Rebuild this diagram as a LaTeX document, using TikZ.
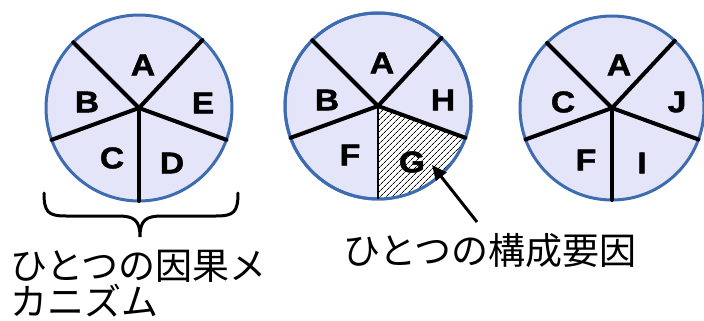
\documentclass[tikz,border=0pt]{standalone}
\usepackage{fontspec}
\newfontfamily\labfont{Liberation Sans}[BoldFeatures={FakeBold=1.5}]
\newfontfamily\jpfont{Noto Sans CJK JP}
\usetikzlibrary{arrows.meta,patterns.meta}
\definecolor{pie}{RGB}{229,229,250}
\definecolor{rim}{RGB}{62,108,176}
\begin{document}
\begin{tikzpicture}[x=1pt,y=1pt,
  disc/.style={fill=pie,draw=rim,line width=3pt},
  spoke/.style={line width=4pt,line cap=round},
  lab/.style={font=\labfont\bfseries\fontsize{30}{32}\selectfont,inner sep=0pt,xscale=1.12},
  jp/.style={font=\jpfont\fontsize{37}{37}\selectfont,inner sep=0pt}]
\useasboundingbox (0,0) rectangle (704,-321);
% circle 1
\coordinate (c1) at (139,-108);
\draw[disc] (c1) circle[radius=93];
\foreach \a in {135,47,-20,-90,200} \draw[spoke] (c1) -- ++(\a:93);
\node[lab] (a1) at (143,-65) {A};
\node[lab] (b1) at (87,-102) {B};
\node[lab] (e1) at (203,-103) {E};
\node[lab] (cc1) at (112,-158) {C};
\node[lab] (d1) at (172,-163) {D};
% circle 2
\coordinate (c2) at (378,-106);
\draw[disc] (c2) circle[radius=93];
\path[fill=white] (c2) -- ++(-20:93) arc[start angle=-20,end angle=-90,radius=93] -- cycle;
\path[pattern={Lines[angle=45,distance=4pt,line width=0.8pt]}] (c2) -- ++(-20:93) arc[start angle=-20,end angle=-90,radius=93] -- cycle;
\draw[rim,line width=1pt] (c2) -- ++(-20:93) arc[start angle=-20,end angle=-90,radius=93] -- cycle;
\draw[draw=rim,line width=3pt] (c2) circle[radius=93];
\foreach \a in {135,47,-20,200} \draw[spoke] (c2) -- ++(\a:93);
\draw[line width=1.5pt] (c2) -- ++(-90:93);
\node[lab] (a2) at (382,-63) {A};
\node[lab] (b2) at (327,-100) {B};
\node[lab] (h2) at (443,-100) {H};
\node[lab] (f2) at (350,-155) {F};
\node[lab] (g2) at (412,-162) {G};
% circle 3
\coordinate (c3) at (612,-108);
\draw[disc] (c3) circle[radius=92];
\foreach \a in {135,47,-20,-90,200} \draw[spoke] (c3) -- ++(\a:92);
\node[lab] (a3) at (619,-65) {A};
\node[lab] (cc3) at (563,-102) {C};
\node[lab] (j3) at (677,-102) {J};
\node[lab] (f3) at (586,-160) {F};
\node[lab] (i3) at (642,-163) {I};
% brace
\draw[line width=3pt,line cap=round]
  (44,-193) .. controls (44,-212) and (48,-216) .. (66,-216) -- (118,-216)
  .. controls (134,-216) and (140,-220) .. (140,-237)
  .. controls (140,-220) and (146,-216) .. (162,-216) -- (216,-216)
  .. controls (234,-216) and (238,-212) .. (238,-193);
% arrow
\coordinate (tail) at (477,-222);
\coordinate (tip) at (432,-165);
\draw[line width=3pt,-{Triangle[length=15pt,width=13pt]}] (tail) -- (tip);
% texts
\node[jp,anchor=west,align=left] (mech) at (10,-284) {ひとつの因果メ\\[-1pt]カニズム};
\node[jp,anchor=west] (comp) at (343,-251) {ひとつの構成要因};
\end{tikzpicture}
\end{document}
